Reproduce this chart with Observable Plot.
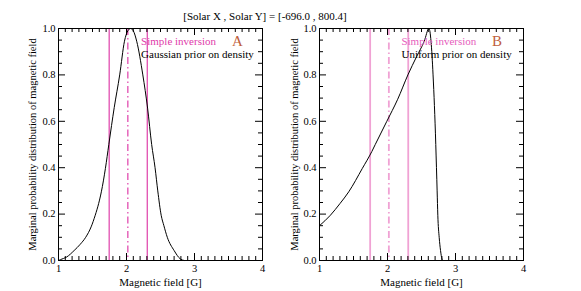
<!DOCTYPE html>
<html><head><meta charset="utf-8">
<script src="https://cdn.jsdelivr.net/npm/d3@7"></script>
<script src="https://cdn.jsdelivr.net/npm/@observablehq/plot@0.6"></script>
<style>
body{margin:0;background:#fff;}
#wrap{position:relative;width:581px;height:291px;overflow:hidden;font-family:"Liberation Serif",serif;}
#title{position:absolute;top:10px;left:0;width:530px;text-align:center;font-size:11px;color:#000;line-height:13px;}
.pan{position:absolute;top:0;}
.pan svg text{font-family:"Liberation Serif",serif;}
</style></head>
<body><div id="wrap"><div id="title"></div></div>
<script>
const title = "[Solar X , Solar Y] = [-696.0 , 800.4]";
const xLabel = "Magnetic field [G]";
const yLabel = "Marginal probability distribution of magnetic field";
const xTicks = [1, 2, 3, 4];
const yTicks = [0, 0.2, 0.4, 0.6, 0.8, 1.0];

// Panel A: Gaussian prior on density
const gaussX = [1.00,1.03,1.12,1.23,1.32,1.40,1.48,1.54,1.59,1.63,1.69,1.74,1.82,1.90,1.97,2.02,2.06,2.10,2.15,2.24,2.31,2.37,2.42,2.46,2.51,2.55,2.60,2.70,2.79,2.85];
const gaussY = [0.000,0.004,0.015,0.043,0.070,0.100,0.145,0.195,0.245,0.296,0.397,0.500,0.660,0.800,0.945,0.990,1.000,0.990,0.945,0.800,0.657,0.500,0.400,0.300,0.195,0.150,0.100,0.043,0.007,0.000];
// Panel B: Uniform prior on density
const unifX = [1.00,1.16,1.30,1.43,1.63,1.77,1.82,1.99,2.15,2.30,2.43,2.54,2.61,2.64,2.67,2.71,2.72,2.73,2.74,2.76,2.78,2.80,2.81];
const unifY = [0.150,0.195,0.245,0.296,0.397,0.470,0.500,0.600,0.695,0.800,0.880,0.945,1.000,0.945,0.800,0.500,0.400,0.300,0.195,0.100,0.043,0.007,0.000];
// Simple inversion: lower, central, upper
const invLines = [1.745, 2.02, 2.305];
const invStyle = ["solid", "dashdot", "solid"];
const panels = [
  {name:"A", note:"Gaussian prior on density", xs:gaussX, ys:gaussY},
  {name:"B", note:"Uniform prior on density", xs:unifX, ys:unifY}
];

const minorX = d3.range(11, 40).map(d => d/10).filter(d => Math.abs(d - Math.round(d)) > 1e-6);
const minorY = d3.range(1, 20).map(d => d/20).filter(d => Math.abs(d*5 - Math.round(d*5)) > 1e-6);
const FF = "Liberation Serif";

function makePanel(p, idx) {
  const cfg = idx === 0
    ? {width:290, ml:58, mr:28, lineCol:"#dc2ea2", lineW:1.1, txtCol:"#e03aaa"}
    : {width:291, ml:29, mr:58, lineCol:"#f0a2d4", lineW:1.8, txtCol:"#e65cbc"};
  const H = 291, mt = 28, mb = 31;
  const iw = cfg.width - cfg.ml - cfg.mr, ih = H - mt - mb;
  const data = p.xs.map((x, i) => ({x, y: p.ys[i]}));
  const lines = invLines.map((x, i) => ({x, s: invStyle[i]}));
  return Plot.plot({
    width: cfg.width, height: H,
    marginTop: mt, marginBottom: mb, marginLeft: cfg.ml, marginRight: cfg.mr,
    x: {domain: [1, 4]}, y: {domain: [0, 1]},
    style: "font-family: 'Liberation Serif', serif; font-size: 10.5px; background: transparent; color: #000; overflow: visible;",
    marks: [
      Plot.ruleX(lines.filter(d => d.s === "solid"), {x: "x", stroke: cfg.lineCol, strokeWidth: cfg.lineW}),
      Plot.ruleX(lines.filter(d => d.s === "dashdot"), {x: "x", stroke: cfg.lineCol, strokeWidth: cfg.lineW, strokeDasharray: "7,3,1.5,3"}),
      Plot.line(data, {x: "x", y: "y", stroke: "#000", strokeWidth: 1, curve: "monotone-x"}),
      Plot.frame({stroke: "#000", strokeWidth: 1}),
      // inward ticks, bottom and top
      Plot.tickX(minorX, {x: d => d, insetTop: ih - 4, stroke: "#000"}),
      Plot.tickX(xTicks, {x: d => d, insetTop: ih - 7, stroke: "#000"}),
      Plot.tickX(minorX, {x: d => d, insetBottom: ih - 4, stroke: "#000"}),
      Plot.tickX(xTicks, {x: d => d, insetBottom: ih - 7, stroke: "#000"}),
      // inward ticks, left and right
      Plot.tickY(minorY, {y: d => d, insetRight: iw - 4, stroke: "#000"}),
      Plot.tickY(yTicks, {y: d => d, insetRight: iw - 7, stroke: "#000"}),
      Plot.tickY(minorY, {y: d => d, insetLeft: iw - 4, stroke: "#000"}),
      Plot.tickY(yTicks, {y: d => d, insetLeft: iw - 7, stroke: "#000"}),
      Plot.axisX({ticks: xTicks, tickSize: 0, tickPadding: 4, tickFormat: d => String(d), label: null, fontSize: 10.5, fontFamily: FF}),
      Plot.axisY({ticks: yTicks, tickSize: 0, tickPadding: 3, tickFormat: d => d.toFixed(1), label: null, fontSize: 10.5, fontFamily: FF}),
      Plot.text([xLabel], {frameAnchor: "bottom", dy: 22, lineAnchor: "middle", text: d => d, fontSize: 11, fill: "#000", fontFamily: FF}),
      Plot.text([yLabel], {frameAnchor: "left", dx: idx === 0 ? -26 : -25, rotate: -90, textAnchor: "middle", lineAnchor: "middle", text: d => d, fontSize: 10.5, fill: "#000", fontFamily: FF}),
      Plot.text(["Simple inversion"], {x: idx === 0 ? 2.215 : 2.205, y: 0.945, text: d => d, textAnchor: "start", lineAnchor: "middle", fill: cfg.txtCol, fontSize: 11, fontFamily: FF}),
      Plot.text([p.note], {x: idx === 0 ? 2.215 : 2.205, y: 0.887, text: d => d, textAnchor: "start", lineAnchor: "middle", fill: "#000", fontSize: 11, fontFamily: FF}),
      Plot.text([p.name], {x: idx === 0 ? 3.63 : 3.61, y: 0.945, text: d => d, textAnchor: "middle", lineAnchor: "middle", fill: "#c0603c", fontSize: 15, fontFamily: FF})
    ]
  });
}

const wrap = document.getElementById("wrap");
document.getElementById("title").textContent = title;
panels.forEach((p, i) => {
  const svg = makePanel(p, i);
  const d = document.createElement("div");
  d.className = "pan";
  d.style.left = (i === 0 ? 0 : 290) + "px";
  d.appendChild(svg);
  wrap.appendChild(d);
});
</script></body></html>
